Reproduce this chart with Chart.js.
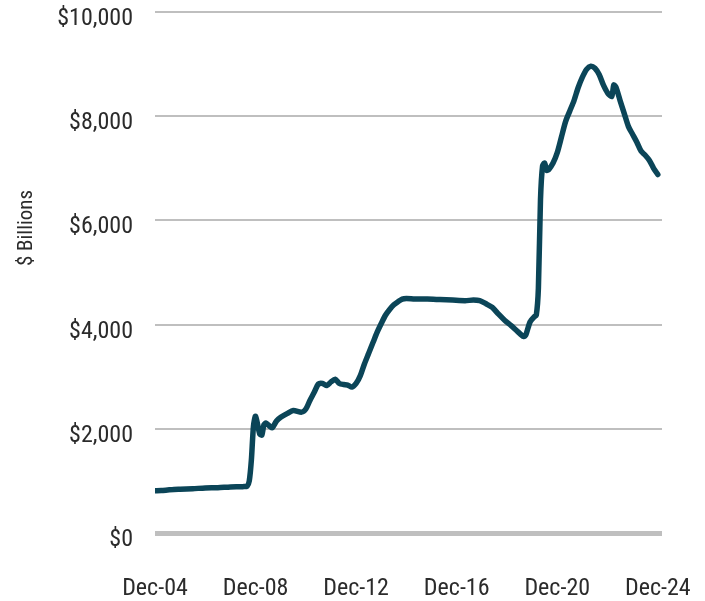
<!DOCTYPE html>
<html>
<head>
<meta charset="utf-8">
<script src="https://cdn.jsdelivr.net/npm/chart.js@4/dist/chart.umd.min.js"></script>
<style>
  html, body { margin: 0; padding: 0; background: #fff; }
  #wrap { width: 705px; height: 601px; position: relative; }
</style>
</head>
<body>
<div id="wrap"><canvas id="chart"></canvas></div>
<script>
// months counted from Dec-04 (0) to Dec-24 (240)
const months = [
  0, 3, 6, 9, 12, 18, 24, 30, 36, 42, 44, 45, 46, 47, 48, 50, 51, 52, 53, 55, 56, 58,
  60, 63, 66, 70, 72, 74, 76, 78, 80, 82, 84, 86, 88, 90, 92, 94, 96, 98,
  100, 102, 104, 106, 108, 110, 112, 114, 116, 118, 120, 124, 130, 136, 142, 148,
  152, 155, 158, 161, 164, 167, 170, 173, 176, 177, 179, 181, 182, 183, 184, 185,
  186, 187, 188, 190, 192, 194, 196, 198, 200, 202, 204, 206, 208, 210, 212, 214,
  216, 218, 219, 220, 222, 224, 226, 228, 230, 232, 234, 236, 238, 240
];
// Fed balance sheet, $ billions
const assets = [
  810, 815, 825, 835, 840, 850, 865, 870, 885, 890, 900, 1000, 1400, 2050, 2240, 1900, 1880, 2080, 2110, 2040, 2020, 2150,
  2220, 2290, 2350, 2320, 2380, 2550, 2700, 2860, 2870, 2830, 2900, 2950, 2870, 2850, 2840, 2800, 2870, 3020,
  3250, 3450, 3650, 3850, 4020, 4180, 4290, 4380, 4440, 4490, 4500, 4490, 4490, 4480, 4470, 4460,
  4470, 4460, 4400, 4330, 4200, 4080, 3980, 3870, 3770, 3800, 4050, 4150, 4180, 4700, 6400, 7050,
  7100, 6960, 6980, 7100, 7300, 7600, 7900, 8100, 8300, 8550, 8750, 8900, 8960, 8920, 8800, 8600,
  8450, 8380, 8600, 8560, 8300, 8050, 7800, 7650, 7500, 7330, 7250, 7150, 7000, 6880
];
const tickMonths = [0, 48, 96, 144, 192, 240];
const tickLabels = ['Dec-04', 'Dec-08', 'Dec-12', 'Dec-16', 'Dec-20', 'Dec-24'];
const yTicks = [0, 2000, 4000, 6000, 8000, 10000];

const fontFamily = '"Liberation Sans Narrow", "Roboto Condensed", "DejaVu Sans Condensed", sans-serif';
const textColor = '#2b2b2b';

// axis title drawn by hand so it sits where the original has it
const yTitle = {
  id: 'yTitle',
  afterDraw(chart) {
    const c = chart.ctx;
    c.save();
    c.translate(27, 228);
    c.rotate(-Math.PI / 2);
    c.font = '21px ' + fontFamily;
    c.fillStyle = textColor;
    c.textAlign = 'center';
    c.textBaseline = 'middle';
    c.fillText('$ Billions', 0, 0);
    c.restore();
  }
};

const ctx = document.querySelector('#chart').getContext('2d');
const chart = new Chart(ctx, {
  type: 'line',
  data: {
    datasets: [{
      data: months.map((m, i) => ({ x: m, y: assets[i] })),
      borderColor: '#0b4558',
      borderWidth: 5.5,
      borderCapStyle: 'round',
      borderJoinStyle: 'round',
      pointRadius: 0,
      tension: 0.25,
      fill: false
    }]
  },
  options: {
    responsive: true,
    maintainAspectRatio: false,
    animation: false,
    layout: { padding: { top: 12, right: 43, left: 0, bottom: 0 } },
    plugins: {
      legend: { display: false },
      tooltip: { enabled: false }
    },
    scales: {
      x: {
        type: 'linear',
        min: 0,
        max: 242,
        afterBuildTicks: scale => {
          scale.ticks = tickMonths.map(v => ({ value: v }));
        },
        afterFit: scale => {
          scale.height = 68;
          scale.paddingLeft = 0;
          scale.paddingRight = 0;
        },
        grid: { display: false, drawTicks: false },
        border: { display: false },
        ticks: {
          maxRotation: 0,
          autoSkip: false,
          padding: 42,
          color: textColor,
          font: { family: fontFamily, size: 24 },
          callback: v => tickLabels[tickMonths.indexOf(v)]
        }
      },
      y: {
        min: 0,
        max: 10000,
        afterBuildTicks: scale => {
          scale.ticks = yTicks.map(v => ({ value: v }));
        },
        afterFit: scale => {
          scale.width = 155;
          scale.paddingTop = 0;
          scale.paddingBottom = 0;
        },
        grid: {
          drawTicks: false,
          color: '#bfbfbf',
          lineWidth: c => (c.tick && c.tick.value === 0 ? 5 : 2)
        },
        border: { display: false },
        ticks: {
          padding: 22,
          labelOffset: 7,
          color: textColor,
          font: { family: fontFamily, size: 24 },
          callback: v => '$' + v.toLocaleString('en-US')
        }
      }
    }
  },
  plugins: [yTitle]
});
</script>
</body>
</html>
